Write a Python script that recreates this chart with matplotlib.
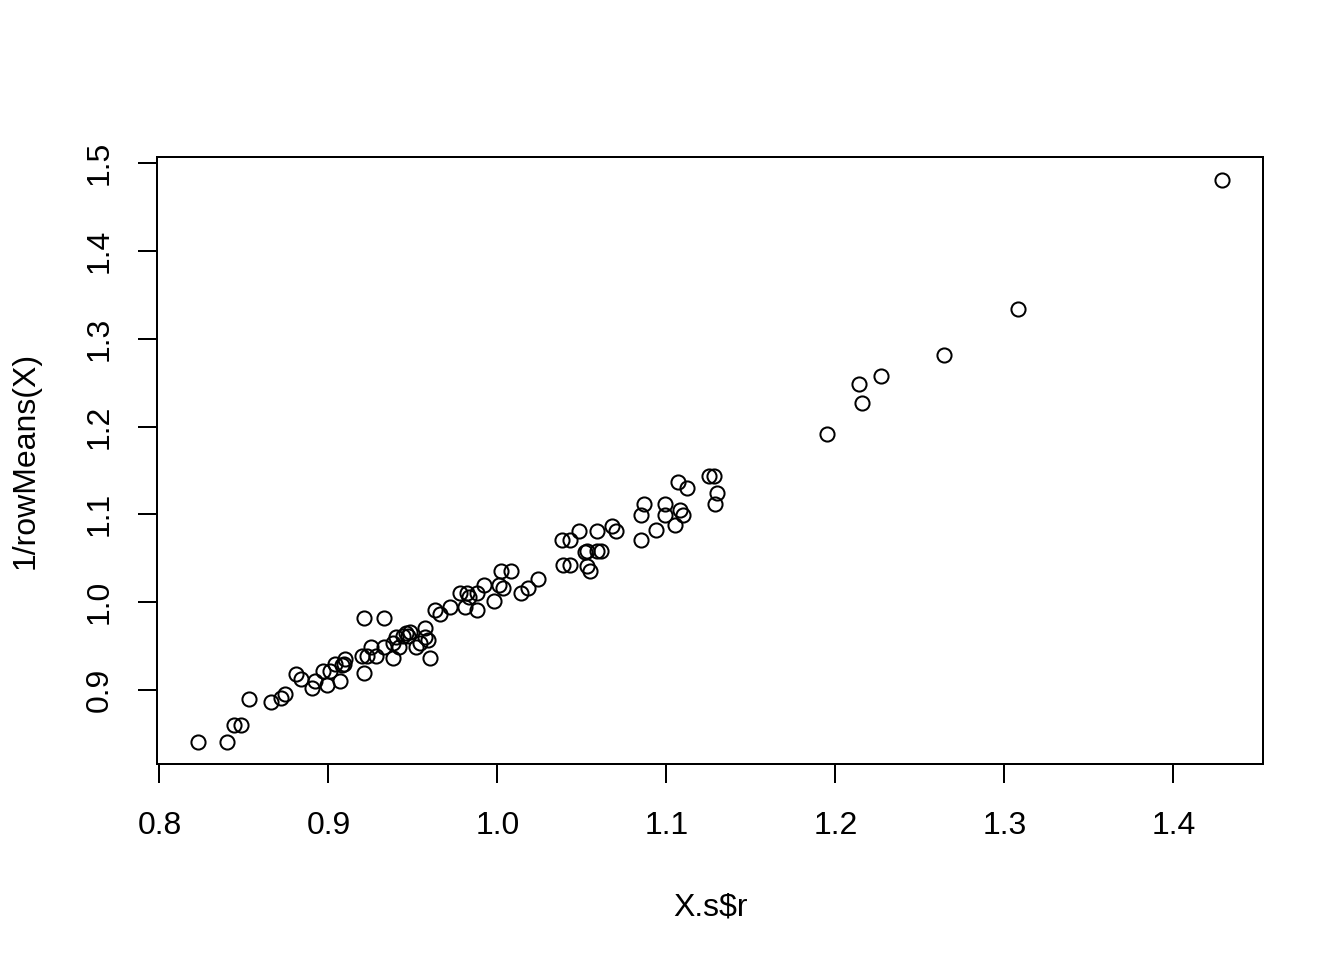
import matplotlib
matplotlib.use("Agg")
import matplotlib.pyplot as plt
import numpy as np

# values
xs_r = [0.823, 0.840, 0.844, 0.848, 0.853, 0.866, 0.872, 0.874, 0.881, 0.884,
        0.890, 0.892, 0.897, 0.899, 0.901, 0.904, 0.907, 0.908, 0.909, 0.910,
        0.921, 0.921, 0.920, 0.923, 0.925, 0.928, 0.933, 0.933, 0.938, 0.938,
        0.940, 0.942, 0.944, 0.946, 0.948, 0.947, 0.952, 0.954, 0.957, 0.957,
        0.959, 0.960, 0.963, 0.966, 0.972, 0.978, 0.981, 0.982, 0.983, 0.988,
        0.988, 0.992, 0.998, 1.001, 1.003, 1.002, 1.008, 1.014, 1.018, 1.024,
        1.038, 1.039, 1.043, 1.043, 1.048, 1.052, 1.053, 1.053, 1.055, 1.059,
        1.059, 1.061, 1.068, 1.070, 1.085, 1.085, 1.087, 1.094, 1.099, 1.099,
        1.105, 1.107, 1.108, 1.110, 1.112, 1.125, 1.128, 1.129, 1.130, 1.195,
        1.214, 1.216, 1.227, 1.264, 1.308, 1.429]

row_means_inv = [0.841, 0.841, 0.860, 0.860, 0.890, 0.886, 0.891, 0.895, 0.918, 0.913,
                 0.902, 0.910, 0.922, 0.906, 0.922, 0.930, 0.910, 0.928, 0.930, 0.935,
                 0.982, 0.919, 0.939, 0.939, 0.949, 0.939, 0.982, 0.949, 0.936, 0.954,
                 0.960, 0.949, 0.962, 0.965, 0.966, 0.962, 0.949, 0.953, 0.970, 0.960,
                 0.957, 0.936, 0.991, 0.986, 0.995, 1.010, 0.995, 1.010, 1.006, 0.991,
                 1.010, 1.020, 1.001, 1.020, 1.016, 1.036, 1.036, 1.010, 1.016, 1.026,
                 1.071, 1.042, 1.071, 1.042, 1.081, 1.057, 1.041, 1.058, 1.036, 1.081,
                 1.058, 1.058, 1.087, 1.081, 1.071, 1.099, 1.112, 1.082, 1.112, 1.099,
                 1.088, 1.137, 1.105, 1.099, 1.130, 1.144, 1.144, 1.112, 1.124, 1.191,
                 1.249, 1.227, 1.258, 1.282, 1.334, 1.481]

x_ticks = [0.8, 0.9, 1.0, 1.1, 1.2, 1.3, 1.4]
y_ticks = [0.9, 1.0, 1.1, 1.2, 1.3, 1.4, 1.5]

plt.rcParams['font.family'] = ['Liberation Sans', 'DejaVu Sans']
plt.rcParams['font.size'] = 12

fig = plt.figure(figsize=(7, 5), dpi=192)
W, H = 1344, 960
ax = fig.add_axes([157.4 / W, 195.8 / H, (1263.4 - 157.4) / W, (764.2 - 157.4) / H])

ax.plot(xs_r, row_means_inv, linestyle='none', marker='o', markersize=5.3,
        markerfacecolor='none', markeredgecolor='black', markeredgewidth=0.75)

# R style 4% range extension
x = np.array(xs_r)
y = np.array(row_means_inv)
dx = (x.max() - x.min()) * 0.04
dy = (y.max() - y.min()) * 0.04
ax.set_xlim(x.min() - dx, x.max() + dx)
ax.set_ylim(y.min() - dy, y.max() + dy)

ax.set_xticks(x_ticks)
ax.set_xticklabels(["%.1f" % v for v in x_ticks])
ax.set_yticks(y_ticks)
ax.set_yticklabels(["%.1f" % v for v in y_ticks], rotation=90, va='center')

for s in ax.spines.values():
    s.set_linewidth(0.75)
ax.tick_params(axis='both', direction='out', length=7.2, width=0.75, labelsize=12)
ax.tick_params(axis='x', pad=10.5)
ax.tick_params(axis='y', pad=8.8)

ax.set_xlabel("X.s\\$r", fontsize=12, labelpad=19)
ax.set_ylabel("1/rowMeans(X)", fontsize=12, labelpad=16.5)

fig.savefig("out.png", dpi=192)
